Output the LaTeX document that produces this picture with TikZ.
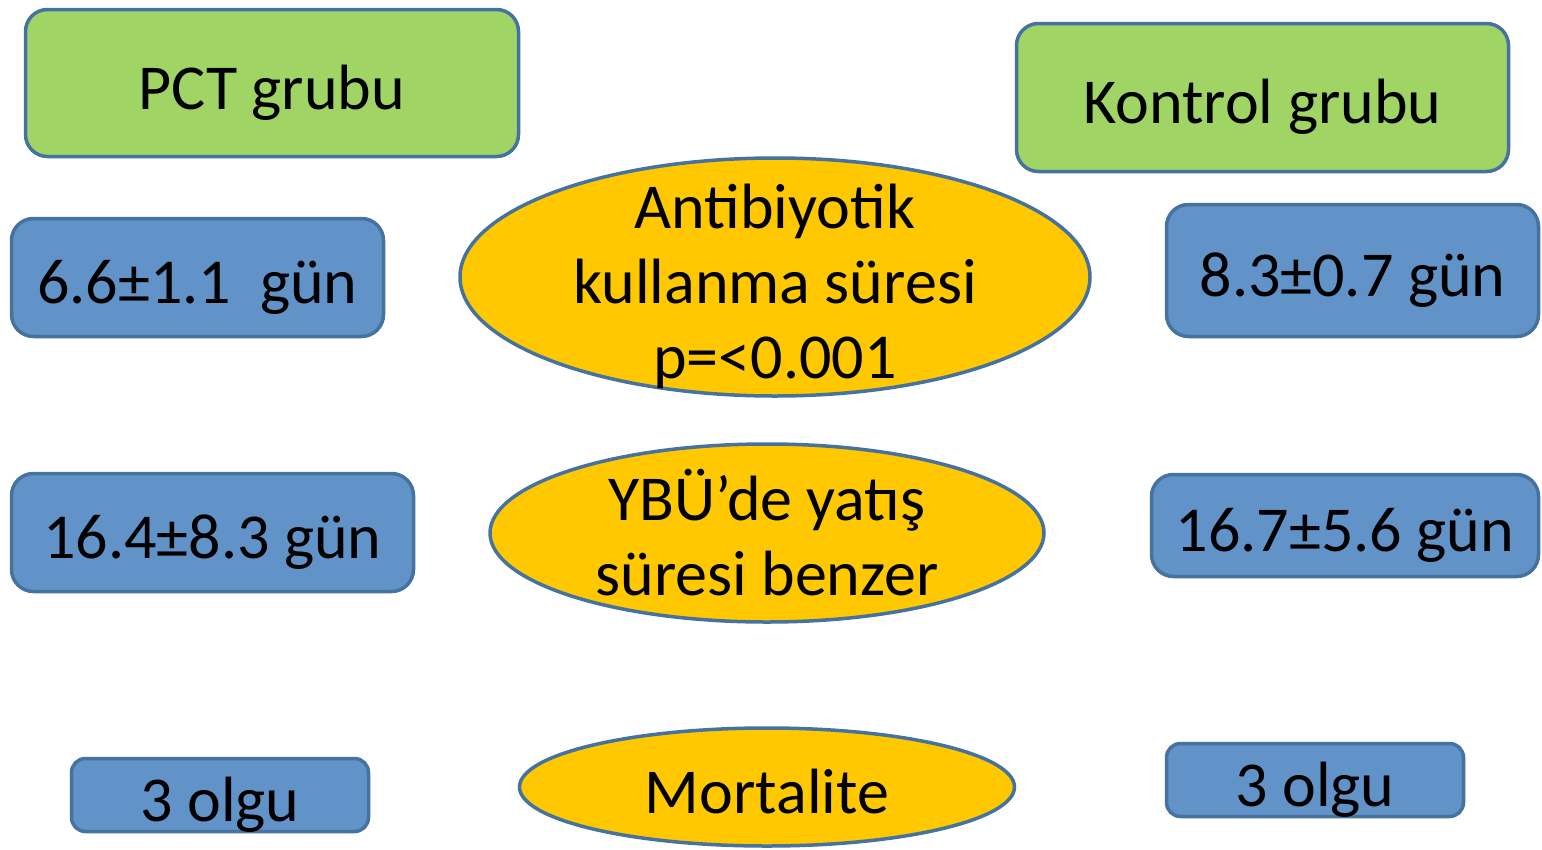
\documentclass[tikz,border=0pt]{standalone}
\usepackage{fontspec}
\setmainfont{Carlito}
\usetikzlibrary{shapes.geometric}
\definecolor{grn}{HTML}{A0D565}
\definecolor{blu}{HTML}{6192C8}
\definecolor{ylw}{HTML}{FFC800}
\definecolor{edge}{HTML}{4672A0}
\tikzset{
  txt/.style={font=\fontsize{64}{75}\selectfont},
  box/.style={draw=edge, line width=3.5pt, rounded corners=22pt, inner sep=0pt,
    txt, text height=52pt, text depth=0pt},
  greenbox/.style={box, fill=grn},
  bluebox/.style={box, fill=blu},
  smallbox/.style={bluebox, rounded corners=14pt},
  oval/.style={draw=edge, line width=3.5pt, fill=ylw, ellipse, inner sep=0pt},
  ovaltext/.style={txt, align=center, inner sep=0pt}
}
\begin{document}
\begin{tikzpicture}[x=1pt,y=-1pt]
\useasboundingbox (0,0) rectangle (1542,849);
% group headers
\node[greenbox, minimum width=493pt, minimum height=147pt] (pct) at (272,83) {PCT grubu};
\node[greenbox, minimum width=492pt, minimum height=148pt] (kontrol) at (1262.5,97.5) {Kontrol grubu};
% left values
\node[bluebox, minimum width=372pt, minimum height=118pt] (l1) at (197.5,277.5) {6.6±1.1\ \ gün};
\node[bluebox, minimum width=402pt, minimum height=118pt] (l2) at (212.5,532.5) {16.4±8.3 gün};
\node[smallbox, minimum width=297pt, minimum height=73pt] (l3) at (220,795) {3 olgu};
% right values
\node[bluebox, minimum width=372pt, minimum height=132pt] (r1) at (1352.5,270.5) {8.3±0.7 gün};
\node[bluebox, minimum width=387pt, minimum height=102pt] (r2) at (1345,525.5) {16.7±5.6 gün};
\node[smallbox, minimum width=297pt, minimum height=73pt] (r3) at (1315,780) {3 olgu};
% center ovals
\node[oval, minimum width=630pt, minimum height=238pt] (e1) at (775,277) {};
\node[ovaltext, yshift=-9pt] (e1t) at (e1.center) {Antibiyotik\\kullanma süresi\\p=<0.001};
\node[oval, minimum width=554pt, minimum height=178pt] (e2) at (767,533) {};
\node[ovaltext] (e2t) at (e2.center) {YBÜ’de yatış\\süresi benzer};
\node[oval, minimum width=495pt, minimum height=118pt] (e3) at (767,787) {};
\node[ovaltext, text height=52pt, text depth=0pt] (e3t) at (e3.center) {Mortalite};
\end{tikzpicture}
\end{document}
